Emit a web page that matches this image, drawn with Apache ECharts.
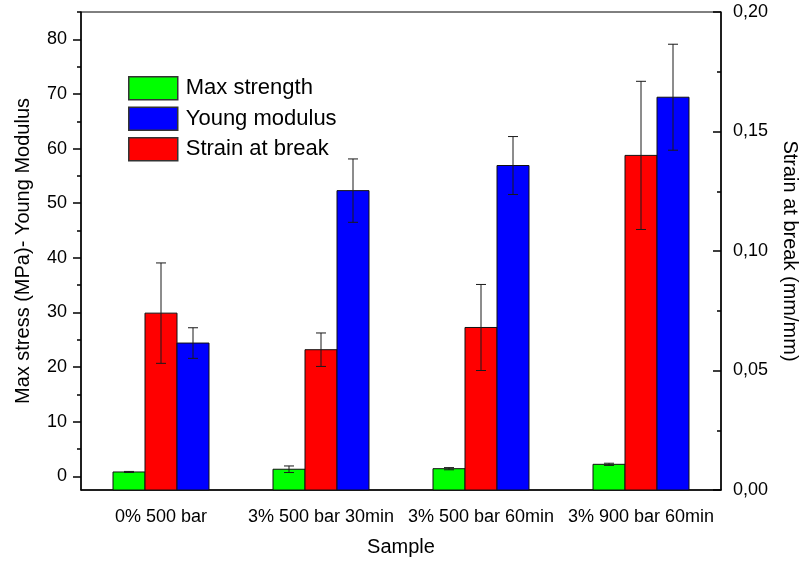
<!DOCTYPE html>
<html>
<head>
<meta charset="utf-8">
<script src="https://cdn.jsdelivr.net/npm/echarts@6/dist/echarts.min.js"></script>
<style>
  html, body { margin: 0; padding: 0; background: #fff; }
  #chart { width: 801px; height: 562px; }
</style>
</head>
<body>
<div id="chart"></div>
<script>
// Mechanical test results per sample
const categories = ['0% 500 bar', '3% 500 bar 30min', '3% 500 bar 60min', '3% 900 bar 60min'];

const maxStrength = [0.8, 1.3, 1.4, 2.2];          // MPa
const maxStrengthErr = [0.1, 0.6, 0.2, 0.2];
const youngModulus = [24.4, 52.3, 56.9, 69.4];     // MPa
const youngModulusErr = [2.8, 5.8, 5.3, 9.7];
const strainAtBreak = [0.074, 0.0587, 0.068, 0.140]; // mm/mm
const strainAtBreakErr = [0.021, 0.007, 0.018, 0.031];

const leftTicks = [0, 10, 20, 30, 40, 50, 60, 70, 80];
const leftMinorTicks = [5, 15, 25, 35, 45, 55, 65, 75, 85];

const FONT = '"Liberation Sans", Arial, sans-serif';

function rows(values, errs) {
  return values.map((v, i) => [i, v, errs[i]]);
}

// Bar with error whisker; slot = -1, 0, +1 places the bar inside its group
function barWithError(slot) {
  return function (params, api) {
    const x = api.value(0);
    const v = api.value(1);
    const e = api.value(2);
    const catW = api.size([1, 0])[0];
    const bw = catW * 0.2;
    const top = api.coord([x, v]);
    const cs = params.coordSys;
    const baseY = cs.y + cs.height;
    const cx = top[0] + slot * bw;
    const hi = api.coord([x, v + e]);
    const lo = api.coord([x, v - e]);
    const cap = 5;
    const errStyle = { stroke: '#1a1a1a', lineWidth: 1 };
    return {
      type: 'group',
      children: [
        {
          type: 'rect',
          shape: { x: cx - bw / 2, y: top[1], width: bw, height: baseY - top[1] },
          style: { fill: api.visual('color'), stroke: '#111', lineWidth: 1 }
        },
        { type: 'line', shape: { x1: cx, y1: hi[1], x2: cx, y2: lo[1] }, style: errStyle, z2: 5 },
        { type: 'line', shape: { x1: cx - cap, y1: hi[1], x2: cx + cap, y2: hi[1] }, style: errStyle, z2: 5 },
        { type: 'line', shape: { x1: cx - cap, y1: lo[1], x2: cx + cap, y2: lo[1] }, style: errStyle, z2: 5 }
      ]
    };
  };
}

const axisLineStyle = { color: '#000', width: 1.5 };
const tickLineStyle = { color: '#000', width: 1.5 };

const chart = echarts.init(document.getElementById('chart'), null, { renderer: 'canvas' });

chart.setOption({
  animation: false,
  backgroundColor: '#fff',
  textStyle: { fontFamily: FONT },
  grid: {
    left: 81, right: 80, top: 12, bottom: 72,
    outerBoundsMode: 'none',
    containLabel: false,
    show: true, borderColor: '#000', borderWidth: 1, backgroundColor: 'transparent'
  },
  legend: {
    data: ['Max strength', 'Young modulus', 'Strain at break'],
    orient: 'vertical',
    left: 128, top: 76,
    padding: 0,
    itemWidth: 49, itemHeight: 23, itemGap: 6,
    icon: 'rect',
    itemStyle: { borderColor: '#333', borderWidth: 1.5 },
    textStyle: { fontSize: 22, color: '#000', fontFamily: FONT, padding: [0, 0, 0, 3] }
  },
  xAxis: [
    {
      type: 'category',
      data: categories,
      boundaryGap: true,
      position: 'bottom',
      axisLine: { onZero: false, lineStyle: axisLineStyle },
      axisTick: { alignWithLabel: true, length: 8, lineStyle: tickLineStyle },
      axisLabel: { fontSize: 18, color: '#000', margin: 18, interval: 0, fontFamily: FONT },
      name: 'Sample',
      nameLocation: 'middle',
      nameGap: 47,
      nameTextStyle: { fontSize: 20, color: '#000', fontFamily: FONT },
      splitLine: { show: false }
    },
    {
      type: 'category',
      data: categories,
      boundaryGap: true,
      position: 'bottom',
      axisLine: { show: false, onZero: false },
      axisTick: { length: 4, lineStyle: tickLineStyle },
      axisLabel: { show: false },
      splitLine: { show: false }
    }
  ],
  yAxis: [
    {
      type: 'value',
      min: -2.5, max: 85,
      position: 'left',
      axisLine: { show: true, onZero: false, lineStyle: axisLineStyle },
      axisTick: { show: true, length: 8, customValues: leftTicks, lineStyle: tickLineStyle },
      axisLabel: { customValues: leftTicks, fontSize: 18, color: '#000', margin: 14, fontFamily: FONT },
      splitLine: { show: false },
      name: 'Max stress (MPa)- Young Modulus',
      nameLocation: 'middle',
      nameGap: 48,
      nameTextStyle: { fontSize: 20, color: '#000', fontFamily: FONT }
    },
    {
      type: 'value',
      min: 0, max: 0.2, interval: 0.05,
      position: 'right',
      axisLine: { show: true, onZero: false, lineStyle: axisLineStyle },
      axisTick: { show: true, inside: true, length: 8, lineStyle: tickLineStyle },
      minorTick: { show: true, splitNumber: 2, length: 4, lineStyle: { color: '#000', width: 1.5 } },
      axisLabel: {
        fontSize: 18, color: '#000', margin: 12, fontFamily: FONT,
        formatter: v => v.toFixed(2).replace('.', ',')
      },
      splitLine: { show: false },
      name: 'Strain at break (mm/mm)',
      nameLocation: 'middle',
      nameRotate: -90,
      nameGap: 59,
      nameTextStyle: { fontSize: 20, color: '#000', fontFamily: FONT }
    },
    {
      type: 'value',
      min: -2.5, max: 85,
      position: 'left',
      axisLine: { show: false, onZero: false },
      axisTick: { show: true, length: 4, customValues: leftMinorTicks, lineStyle: tickLineStyle },
      axisLabel: { show: false },
      splitLine: { show: false }
    }
  ],
  series: [
    {
      name: 'Max strength',
      type: 'custom',
      xAxisIndex: 0, yAxisIndex: 0,
      itemStyle: { color: '#00ff00' },
      renderItem: barWithError(-1),
      encode: { x: 0, y: 1 },
      data: rows(maxStrength, maxStrengthErr)
    },
    {
      name: 'Strain at break',
      type: 'custom',
      xAxisIndex: 0, yAxisIndex: 1,
      itemStyle: { color: '#ff0000' },
      renderItem: barWithError(0),
      encode: { x: 0, y: 1 },
      data: rows(strainAtBreak, strainAtBreakErr)
    },
    {
      name: 'Young modulus',
      type: 'custom',
      xAxisIndex: 0, yAxisIndex: 0,
      itemStyle: { color: '#0000ff' },
      renderItem: barWithError(1),
      encode: { x: 0, y: 1 },
      data: rows(youngModulus, youngModulusErr)
    }
  ]
});
</script>
</body>
</html>
